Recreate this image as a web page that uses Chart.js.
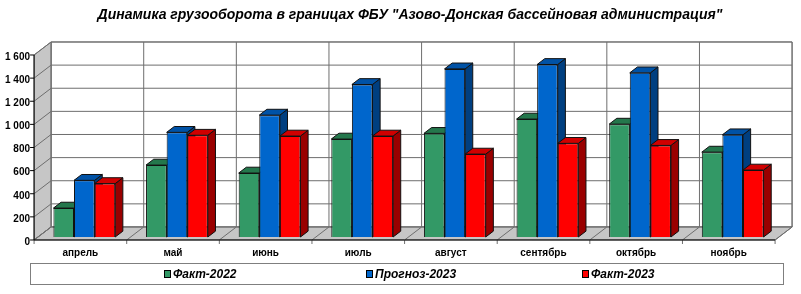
<!DOCTYPE html>
<html>
<head>
<meta charset="utf-8">
<script src="https://cdn.jsdelivr.net/npm/chart.js@4.4.0/dist/chart.umd.min.js"></script>
<style>
  html, body { margin: 0; padding: 0; background: #fff; }
</style>
</head>
<body>
<canvas id="chart" width="801" height="294"></canvas>
<script>
// Data
var months = ['апрель', 'май', 'июнь', 'июль', 'август', 'сентябрь', 'октябрь', 'ноябрь'];
var fact2022 = [250, 622, 553, 847, 896, 1020, 976, 734];
var plan2023 = [490, 905, 1054, 1319, 1454, 1492, 1420, 884];
var fact2023 = [462, 880, 873, 873, 717, 810, 792, 579];
var seriesNames = ['Факт-2022', 'Прогноз-2023', 'Факт-2023'];
var yMax = 1600;
var yStep = 200;

var titleText = 'Динамика грузооборота в границах ФБУ "Азово-Донская бассейновая администрация"';
var FONT = 'Arial, "Liberation Sans", sans-serif';

// colours: front, top, side
var colors = [
  ['#339966', '#24774c', '#1c5a3a'],
  ['#0066cc', '#0052a6', '#003f80'],
  ['#ff0000', '#d00000', '#990000']
];

// 3d depth vector of the whole plot and where the bars sit in it
var DX = 17, DY = -13, F = 0.23, BAR_D = 0.45;
var GRID = '#6e6e6e';

function sh(x, y, d) {
  return [x + d * DX, y + d * DY];
}

function poly(ctx, pts, fill, stroke) {
  ctx.beginPath();
  ctx.moveTo(pts[0][0], pts[0][1]);
  for (var i = 1; i < pts.length; i++) ctx.lineTo(pts[i][0], pts[i][1]);
  ctx.closePath();
  if (fill) { ctx.fillStyle = fill; ctx.fill(); }
  if (stroke) { ctx.strokeStyle = stroke; ctx.lineWidth = 1; ctx.stroke(); }
}

function line(ctx, a, b) {
  ctx.beginPath();
  ctx.moveTo(a[0], a[1]);
  ctx.lineTo(b[0], b[1]);
  ctx.stroke();
}

var box3d = {
  id: 'box3d',
  beforeDatasetsDraw: function (chart) {
    var ctx = chart.ctx, ca = chart.chartArea;
    var ys = chart.scales.y, xs = chart.scales.x;
    var yb = ys.getPixelForValue(0), yt = ys.getPixelForValue(yMax);
    var back = 1 - F, front = -F;
    ctx.save();

    // back wall
    poly(ctx, [sh(ca.left, yt, back), sh(ca.right, yt, back), sh(ca.right, yb, back), sh(ca.left, yb, back)], '#ffffff', GRID);
    // left wall
    poly(ctx, [sh(ca.left, yb, front), sh(ca.left, yt, front), sh(ca.left, yt, back), sh(ca.left, yb, back)], '#c6c6c6', GRID);
    // floor
    poly(ctx, [sh(ca.left, yb, front), sh(ca.right, yb, front), sh(ca.right, yb, back), sh(ca.left, yb, back)], '#c6c6c6', GRID);

    ctx.strokeStyle = GRID;
    ctx.lineWidth = 1;
    // horizontal grid on back and side wall
    for (var v = 0; v <= yMax; v += yStep) {
      var y = ys.getPixelForValue(v);
      line(ctx, sh(ca.left, y, back), sh(ca.right, y, back));
      line(ctx, sh(ca.left, y, front), sh(ca.left, y, back));
    }
    // category boundaries on back wall and floor
    var catW = xs.getPixelForValue(1) - xs.getPixelForValue(0);
    for (var i = 0; i <= months.length; i++) {
      var bx = xs.getPixelForValue(0) - catW / 2 + i * catW;
      line(ctx, sh(bx, yb, back), sh(bx, yt, back));
      line(ctx, sh(bx, yb, front), sh(bx, yb, back));
      var p = sh(bx, yb, front);
      line(ctx, p, [p[0], p[1] + 4]);
    }
    // front value axis
    ctx.strokeStyle = '#000';
    line(ctx, sh(ca.left, yb, front), sh(ca.left, yt, front));
    for (var v2 = 0; v2 <= yMax; v2 += yStep) {
      var q = sh(ca.left, ys.getPixelForValue(v2), front);
      line(ctx, [q[0] - 4, q[1]], q);
    }
    line(ctx, sh(ca.left, yb, front), sh(ca.right, yb, front));

    // bar tops and sides (fronts are drawn by Chart.js)
    chart.data.datasets.forEach(function (ds, di) {
      var meta = chart.getDatasetMeta(di);
      meta.data.forEach(function (bar) {
        var l = bar.x - bar.width / 2, r = bar.x + bar.width / 2;
        var top = bar.y, base = bar.base;
        poly(ctx, [[r, top], [r, base], sh(r, base, BAR_D), sh(r, top, BAR_D)], colors[di][2], '#111');
        poly(ctx, [[l, top], [r, top], sh(r, top, BAR_D), sh(l, top, BAR_D)], colors[di][1], '#111');
      });
    });
    ctx.restore();
  },
  afterDraw: function (chart) {
    var ctx = chart.ctx;
    ctx.save();
    // title
    ctx.fillStyle = '#000';
    ctx.font = 'italic bold 14px ' + FONT;
    ctx.textAlign = 'center';
    ctx.textBaseline = 'middle';
    ctx.fillText(titleText, 410, 15);

    // legend
    ctx.strokeStyle = '#7f7f7f';
    ctx.lineWidth = 1;
    ctx.strokeRect(30.5, 263.5, 753, 21);
    var mx = [164, 366, 582];
    ctx.font = 'italic bold 12px ' + FONT;
    ctx.textAlign = 'left';
    for (var i = 0; i < seriesNames.length; i++) {
      ctx.fillStyle = colors[i][0];
      ctx.fillRect(mx[i] + 0.5, 270.5, 6, 7);
      ctx.strokeStyle = '#000';
      ctx.strokeRect(mx[i] + 0.5, 270.5, 6, 7);
      ctx.fillStyle = '#000';
      ctx.fillText(seriesNames[i], mx[i] + 9, 274.5);
    }
    ctx.restore();
  }
};

function fmt(v) {
  return String(v).replace(/\B(?=(\d{3})+(?!\d))/g, ' ');
}

var chart = new Chart(document.getElementById('chart'), {
  type: 'bar',
  data: {
    labels: months,
    datasets: [fact2022, plan2023, fact2023].map(function (vals, i) {
      return {
        label: seriesNames[i],
        data: vals,
        backgroundColor: colors[i][0],
        borderColor: '#111',
        borderWidth: 1,
        categoryPercentage: 0.667,
        barPercentage: 1
      };
    })
  },
  options: {
    responsive: false,
    animation: false,
    layout: { padding: { top: 52, right: 22, left: 0, bottom: 0 } },
    plugins: {
      legend: { display: false },
      title: { display: false },
      tooltip: { enabled: false }
    },
    scales: {
      x: {
        grid: { display: false, drawTicks: false },
        border: { display: false },
        ticks: {
          color: '#000',
          font: { family: FONT, size: 10, weight: 'bold' },
          padding: 10,
          labelOffset: -4,
          maxRotation: 0
        },
        afterFit: function (s) { s.height = 57; }
      },
      y: {
        min: 0,
        max: yMax,
        grid: { display: false, drawTicks: false },
        border: { display: false },
        ticks: {
          stepSize: yStep,
          color: '#000',
          font: { family: FONT, size: 10, weight: 'bold' },
          padding: 8,
          labelOffset: 5,
          callback: function (v) { return fmt(v); }
        },
        afterFit: function (s) { s.width = 38; }
      }
    }
  },
  plugins: [box3d]
});
</script>
</body>
</html>
